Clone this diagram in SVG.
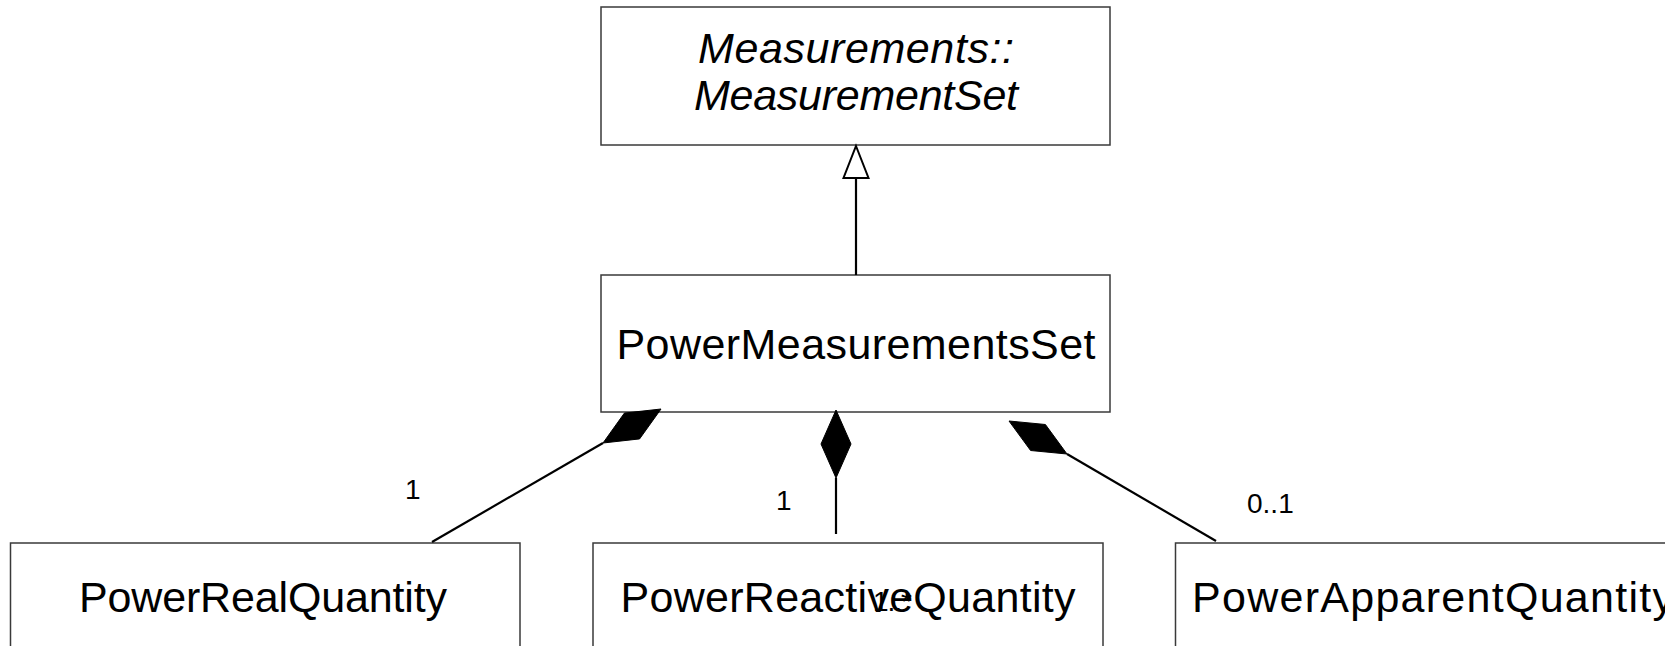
<svg xmlns="http://www.w3.org/2000/svg" width="1665" height="646" viewBox="0 0 1665 646">
  <style>
    .box { fill: #ffffff; stroke: #3a3a3a; stroke-width: 1.5; }
    .name { font-family: "Liberation Sans", Arial, sans-serif; font-size: 43px; fill: #000000; text-anchor: middle; }
    .abstract { font-style: italic; }
    .mult { font-family: "Liberation Sans", Arial, sans-serif; font-size: 28px; fill: #000000; }
    .edge { stroke: #000000; stroke-width: 2.2; fill: none; }
    .comp { fill: #000000; stroke: #000000; stroke-width: 1; stroke-linejoin: miter; }
    .gen { fill: #ffffff; stroke: #000000; stroke-width: 2; stroke-linejoin: miter; }
  </style>

  <rect width="1665" height="646" fill="#ffffff"/>

  <!-- abstract base class -->
  <g id="measurement-set">
    <rect class="box" x="601" y="7" width="509" height="138"/>
    <text class="name abstract" x="856" y="63" textLength="316">Measurements::</text>
    <text class="name abstract" x="856" y="110" textLength="324">MeasurementSet</text>
  </g>

  <!-- aggregate class -->
  <g id="power-measurements-set">
    <rect class="box" x="601" y="275" width="509" height="137"/>
    <text class="name" x="856" y="359" textLength="479">PowerMeasurementsSet</text>
  </g>

  <!-- part classes -->
  <g id="power-real-quantity">
    <rect class="box" x="10.5" y="543" width="509.5" height="140"/>
    <text class="name" x="263" y="612" textLength="368">PowerRealQuantity</text>
  </g>

  <g id="power-reactive-quantity">
    <rect class="box" x="593" y="543" width="510" height="140"/>
    <text class="name" x="848" y="612" textLength="455">PowerReactiveQuantity</text>
  </g>

  <g id="power-apparent-quantity">
    <rect class="box" x="1175.5" y="543" width="510" height="140"/>
    <text class="name" x="1433" y="612" textLength="482">PowerApparentQuantity</text>
  </g>

  <!-- connectors -->
  <g id="connectors">
    <!-- generalization -->
    <line class="edge" x1="856" y1="178" x2="856" y2="275" stroke-width="2.6"/>
    <polygon class="gen" points="856,146 868.5,178 843.5,178"/>

    <!-- composition: PowerRealQuantity -->
    <line class="edge" x1="432" y1="542" x2="603" y2="443"/>
    <polygon class="comp" points="661,409 624.4,413.1 603,443 639.6,438.9"/>
    <text class="mult" x="405" y="499">1</text>

    <!-- composition: PowerReactiveQuantity -->
    <line class="edge" x1="836" y1="478" x2="836" y2="534"/>
    <polygon class="comp" points="836,410 851,444 836,478 821,444"/>
    <text class="mult" x="776" y="510">1</text>
    <text class="mult" x="873" y="611" font-size="21" textLength="39">1..*</text>

    <!-- composition: PowerApparentQuantity -->
    <line class="edge" x1="1067" y1="454" x2="1216" y2="541"/>
    <polygon class="comp" points="1009,421 1045.4,424.5 1067,454 1030.6,450.5"/>
    <text class="mult" x="1247" y="513">0..1</text>
  </g>
</svg>
